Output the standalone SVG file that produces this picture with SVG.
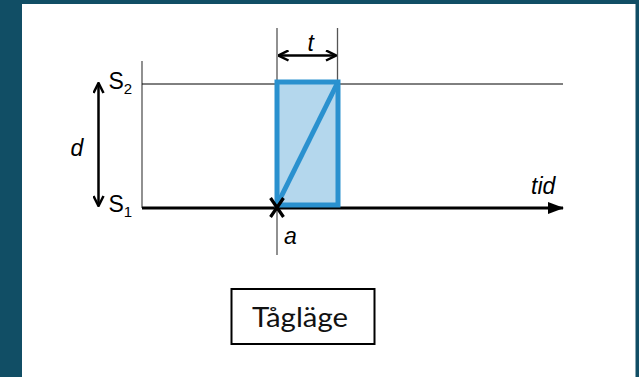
<svg xmlns="http://www.w3.org/2000/svg" width="639" height="377" viewBox="0 0 639 377">
  <defs>
    <style>
      .lbl { font-family: "Liberation Sans", Arial, sans-serif; font-size: 23px; fill: #000; }
      .it { font-style: italic; }
      .thin { stroke: #555; stroke-width: 1.3; fill: none; }
      .chev { stroke: #000; stroke-width: 2.5; fill: none; }
    </style>
    <marker id="chev" viewBox="0 0 12 12" refX="11" refY="6" markerWidth="12" markerHeight="12" markerUnits="userSpaceOnUse" orient="auto-start-reverse">
      <path d="M1,1 L11,6 L1,11" fill="none" stroke="#000" stroke-width="2.5"/>
    </marker>
    <marker id="tri" viewBox="0 0 16 12" refX="15" refY="6" markerWidth="16" markerHeight="12" markerUnits="userSpaceOnUse" orient="auto">
      <path d="M0,0 L16,6 L0,12 Z" fill="#000"/>
    </marker>
  </defs>
  <rect x="0" y="0" width="639" height="377" fill="#114e65"/>
  <rect x="22" y="4" width="613.5" height="373" fill="#ffffff"/>

  <g id="connectors">
    <line class="thin" x1="142" y1="61" x2="142" y2="208"/>
    <line x1="142" y1="84" x2="563" y2="84" stroke="#000" stroke-width="1"/>
    <line x1="277" y1="28" x2="277" y2="255" class="thin"/>
    <line x1="337.5" y1="28" x2="337.5" y2="82" class="thin"/>
    <line x1="142" y1="208" x2="563" y2="208" stroke="#000" stroke-width="3" marker-end="url(#tri)"/>
    <line x1="278.5" y1="55.5" x2="336" y2="55.5" class="chev" marker-start="url(#chev)" marker-end="url(#chev)"/>
    <line x1="98.5" y1="83" x2="98.5" y2="206" class="chev" marker-start="url(#chev)" marker-end="url(#chev)"/>
  </g>

  <g id="train">
    <rect x="277" y="82" width="61" height="123" fill="#b4d7ed" stroke="#2a91cf" stroke-width="5"/>
    <line x1="277.5" y1="204" x2="337" y2="84" stroke="#2a91cf" stroke-width="5"/>
  </g>

  <g id="markA">
    <path d="M270.5,198 L283.5,217 M283.5,198 L270.5,217" stroke="#000" stroke-width="3.2" fill="none"/>
    <text class="lbl it" x="284" y="243.5">a</text>
  </g>

  <g id="labels">
    <text class="lbl" x="108.5" y="88.5">S<tspan font-size="15" dy="5">2</tspan></text>
    <text class="lbl" x="108.5" y="211.5">S<tspan font-size="15" dy="5">1</tspan></text>
    <text class="lbl it" x="70.5" y="155.5">d</text>
    <text class="lbl it" x="307.5" y="50.5">t</text>
    <text class="lbl it" x="531" y="193.5">tid</text>
  </g>

  <g id="legend">
    <rect x="231.5" y="289" width="143" height="55" fill="#fff" stroke="#000" stroke-width="2"/>
    <text x="252" y="327" font-family="Lato, 'Noto Sans', sans-serif" font-size="26" fill="#111" textLength="96" lengthAdjust="spacingAndGlyphs">Tågläge</text>
  </g>
</svg>
